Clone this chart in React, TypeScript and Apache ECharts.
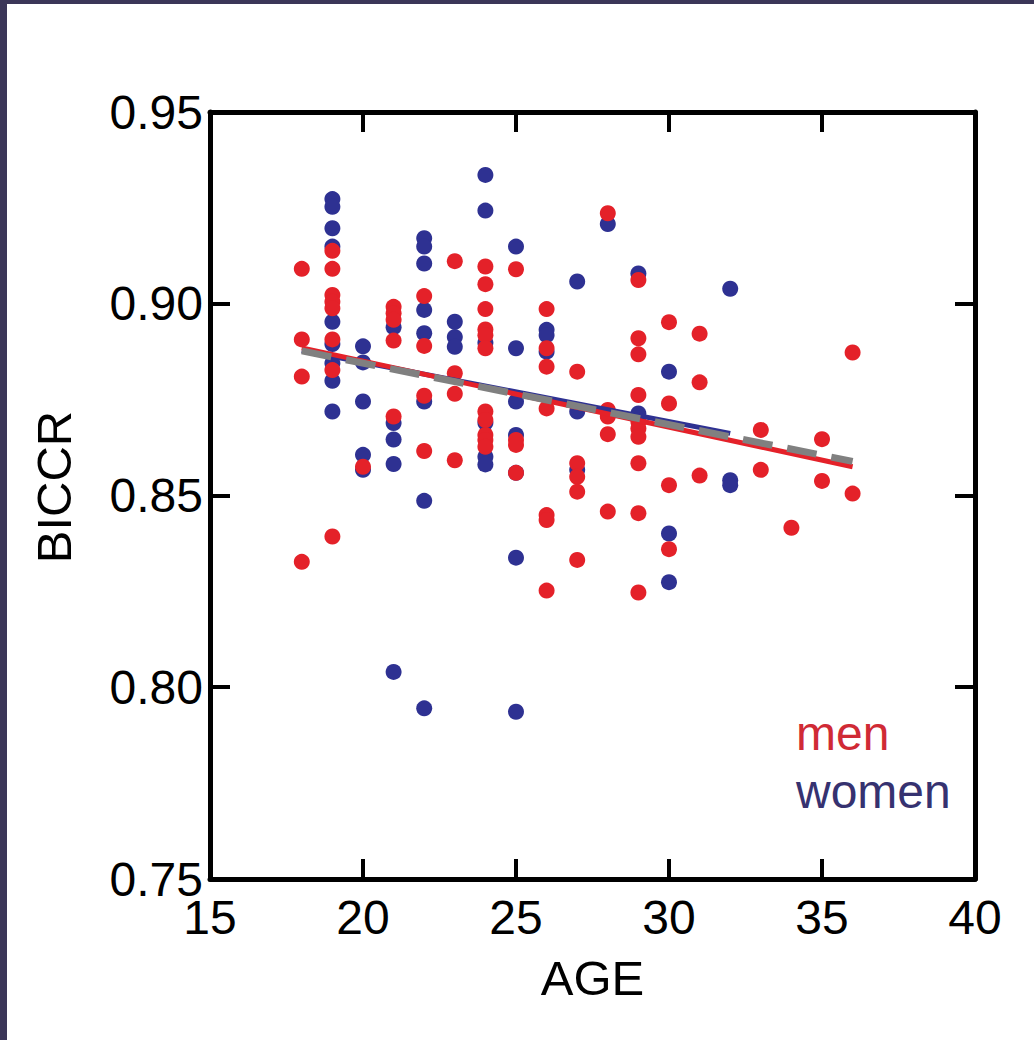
import React, { useEffect, useRef } from "react";
import * as echarts from "echarts";

const xTicks = [15, 20, 25, 30, 35, 40];
const yTicks = [0.75, 0.8, 0.85, 0.9, 0.95];

const menData: number[][] = [
  [18, 0.9091], [18, 0.8907], [18, 0.881], [18, 0.8327],
  [19, 0.9138], [19, 0.9091], [19, 0.9023], [19, 0.9005], [19, 0.8988], [19, 0.8907], [19, 0.8827], [19, 0.8393],
  [20, 0.8575],
  [21, 0.8992], [21, 0.8975], [21, 0.8958], [21, 0.8904], [21, 0.8706],
  [22, 0.902], [22, 0.889], [22, 0.876], [22, 0.8616],
  [23, 0.9111], [23, 0.8819], [23, 0.8765], [23, 0.8592],
  [24, 0.9097], [24, 0.9051], [24, 0.8986], [24, 0.8933], [24, 0.8918], [24, 0.8884], [24, 0.8719], [24, 0.8697], [24, 0.8658], [24, 0.8645], [24, 0.8627],
  [25, 0.909], [25, 0.8645], [25, 0.8632], [25, 0.8559],
  [26, 0.8986], [26, 0.8884], [26, 0.8836], [26, 0.8727], [26, 0.8449], [26, 0.8436], [26, 0.8252],
  [27, 0.8823], [27, 0.8584], [27, 0.8549], [27, 0.851], [27, 0.8332],
  [28, 0.9236], [28, 0.8723], [28, 0.8706], [28, 0.866], [28, 0.8458],
  [29, 0.9062], [29, 0.891], [29, 0.8868], [29, 0.8762], [29, 0.8692], [29, 0.8675], [29, 0.8653], [29, 0.8584], [29, 0.8454], [29, 0.8247],
  [30, 0.8952], [30, 0.874], [30, 0.8527], [30, 0.836],
  [31, 0.8922], [31, 0.8795], [31, 0.8552],
  [33, 0.8671], [33, 0.8567],
  [34, 0.8416],
  [35, 0.8647], [35, 0.8538],
  [36, 0.8873], [36, 0.8505],
];

const womenData: number[][] = [
  [19, 0.9273], [19, 0.9253], [19, 0.9197], [19, 0.9149], [19, 0.8953], [19, 0.8895], [19, 0.8845], [19, 0.8799], [19, 0.8719],
  [20, 0.8889], [20, 0.8847], [20, 0.8745], [20, 0.8606], [20, 0.8567],
  [21, 0.8939], [21, 0.8689], [21, 0.8646], [21, 0.8582], [21, 0.804],
  [22, 0.9171], [22, 0.9149], [22, 0.9105], [22, 0.8984], [22, 0.8923], [22, 0.8745], [22, 0.8486], [22, 0.7945],
  [23, 0.8953], [23, 0.8913], [23, 0.8888],
  [24, 0.9336], [24, 0.9243], [24, 0.8898], [24, 0.869], [24, 0.8601], [24, 0.8581],
  [25, 0.9149], [25, 0.8884], [25, 0.8745], [25, 0.8658], [25, 0.8559], [25, 0.8338], [25, 0.7936],
  [26, 0.8932], [26, 0.8918], [26, 0.8875],
  [27, 0.9058], [27, 0.8719], [27, 0.8567],
  [28, 0.9208],
  [29, 0.9079], [29, 0.8714],
  [30, 0.8823], [30, 0.8401], [30, 0.8274],
  [32, 0.9039], [32, 0.854], [32, 0.8527],
];

const menFit: number[][] = [[18, 0.8885], [36, 0.8575]];
const womenFit: number[][] = [[18, 0.8878], [32, 0.8662]];
const allFit: number[][] = [[18, 0.8877], [36, 0.8589]];

const legendLabels = ["men", "women"];
const yAxisTitle = "BICCR";

const RED = "#e42129";
const BLUE = "#2e3192";
const FONT = "'Liberation Sans', Arial, Helvetica, sans-serif";

export default function App() {
  const ref = useRef<HTMLDivElement>(null);

  useEffect(() => {
    if (!ref.current) return;
    const chart = echarts.init(ref.current, undefined, { renderer: "svg" });

    const axisCommon = {
      axisLine: { show: true, onZero: false, lineStyle: { color: "#000", width: 5 } },
      axisTick: { show: true, inside: true, length: 20, lineStyle: { color: "#000", width: 4 } },
      splitLine: { show: false },
    };

    chart.setOption({
      animation: false,
      backgroundColor: "#fff",
      grid: { left: 210, right: 59, top: 112, bottom: 161, containLabel: false },
      xAxis: [
        {
          type: "value",
          min: xTicks[0],
          max: xTicks[xTicks.length - 1],
          interval: 5,
          position: "bottom",
          ...axisCommon,
          axisLabel: { color: "#000", fontSize: 48, fontFamily: FONT, margin: 14 },
          name: "AGE",
          nameLocation: "middle",
          nameGap: 74,
          nameTextStyle: { color: "#000", fontSize: 49, fontFamily: FONT },
        },
        {
          type: "value",
          min: xTicks[0],
          max: xTicks[xTicks.length - 1],
          interval: 5,
          position: "top",
          ...axisCommon,
          axisLabel: { show: false },
        },
      ],
      yAxis: [
        {
          type: "value",
          min: yTicks[0],
          max: yTicks[yTicks.length - 1],
          interval: 0.05,
          position: "left",
          ...axisCommon,
          axisLabel: {
            color: "#000",
            fontSize: 48,
            fontFamily: FONT,
            margin: 7,
            formatter: (v: number) => v.toFixed(2),
          },
        },
        {
          type: "value",
          min: yTicks[0],
          max: yTicks[yTicks.length - 1],
          interval: 0.05,
          position: "right",
          ...axisCommon,
          axisLabel: { show: false },
        },
      ],
      series: [
        {
          name: "women",
          type: "scatter",
          data: womenData,
          symbol: "circle",
          symbolSize: 16,
          itemStyle: { color: BLUE, opacity: 1 },
          z: 2,
        },
        {
          name: "men",
          type: "scatter",
          data: menData,
          symbol: "circle",
          symbolSize: 16,
          itemStyle: { color: RED, opacity: 1 },
          z: 3,
        },
        {
          name: "women fit",
          type: "line",
          data: womenFit,
          symbol: "none",
          lineStyle: { color: BLUE, width: 5, cap: "butt" },
          z: 4,
        },
        {
          name: "men fit",
          type: "line",
          data: menFit,
          symbol: "none",
          lineStyle: { color: RED, width: 5, cap: "butt" },
          z: 5,
        },
        {
          name: "all fit",
          type: "line",
          data: allFit,
          symbol: "none",
          lineStyle: { color: "#808080", width: 7, type: [30, 15], cap: "butt" },
          z: 6,
        },
      ],
      graphic: [
        { type: "rect", shape: { x: 0, y: 0, width: 1034, height: 4 }, style: { fill: "#3b3658" }, z: 10 },
        { type: "rect", shape: { x: 0, y: 0, width: 7, height: 1040 }, style: { fill: "#3b3658" }, z: 10 },
        {
          type: "text",
          x: 54,
          y: 487,
          rotation: Math.PI / 2,
          style: { text: yAxisTitle, fill: "#000", font: `49px ${FONT}`, verticalAlign: "middle", align: "center" },
          z: 10,
        },
        {
          type: "text",
          x: 796,
          y: 733,
          style: { text: legendLabels[0], fill: "#d02a35", font: `48px ${FONT}`, verticalAlign: "middle", align: "left" },
          z: 10,
        },
        {
          type: "text",
          x: 796,
          y: 791,
          style: { text: legendLabels[1], fill: "#363270", font: `48px ${FONT}`, verticalAlign: "middle", align: "left" },
          z: 10,
        },
      ],
    });

    return () => chart.dispose();
  }, []);

  return (
    <div
      ref={ref}
      style={{ position: "absolute", left: 0, top: 0, width: 1034, height: 1040, background: "#fff" }}
    />
  );
}
